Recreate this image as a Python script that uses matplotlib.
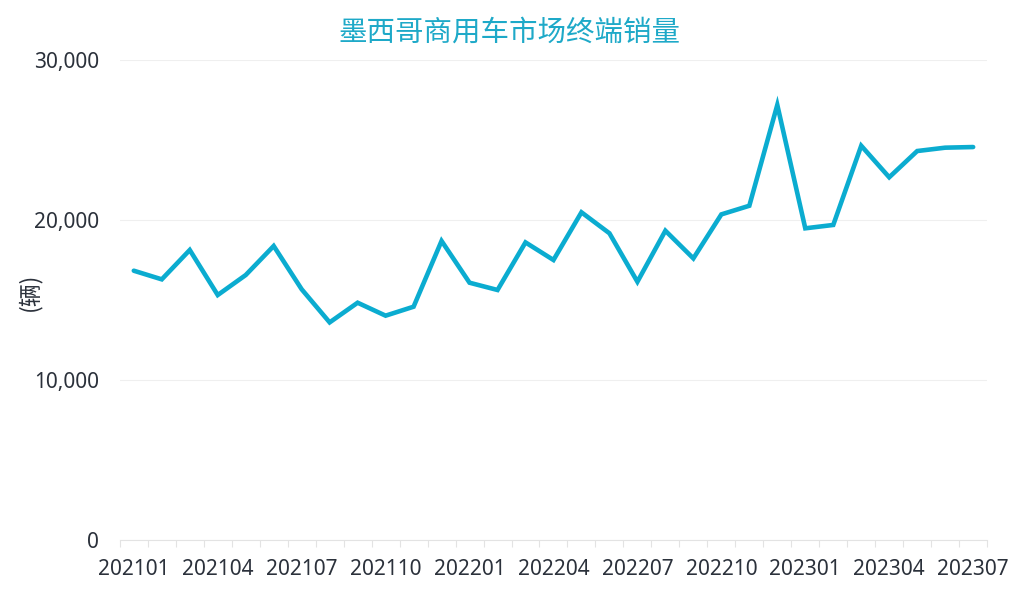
import numpy as np
import matplotlib
matplotlib.use("Agg")
import matplotlib.pyplot as plt
from matplotlib.ticker import FuncFormatter

plt.rcParams['font.family'] = ['Noto Sans', 'Noto Sans CJK SC', 'DejaVu Sans']

# monthly terminal sales, 202101 .. 202307
months = [f"{y}{m:02d}" for y in (2021, 2022, 2023) for m in range(1, 13)][:31]
sales = [16830, 16290, 18125, 15310, 16560, 18375, 15670, 13600, 14830, 14020,
         14580, 18690, 16080, 15625, 18600, 17500, 20480, 19170, 16140, 19330,
         17600, 20350, 20890, 27190, 19480, 19690, 24640, 22670, 24310, 24520,
         24560]

title = "墨西哥商用车市场终端销量"
unit_label = "(辆)"
line_color = "#0BACD0"
text_color = "#2B313B"

fig = plt.figure(figsize=(10.24, 5.97), dpi=100)
ax = fig.add_axes([0.117, 0.0955, 0.847, 0.804])

x = np.arange(len(months))
ax.plot(x, sales, color=line_color, linewidth=3.3, solid_joinstyle="miter",
        solid_capstyle="round", zorder=3)

ax.set_xlim(-0.5, len(months) - 0.5)
ax.set_ylim(0, 30000)
ax.set_yticks([0, 10000, 20000, 30000])
ax.yaxis.set_major_formatter(FuncFormatter(lambda v, p: f"{int(v):,}"))

label_idx = x[::3]
ax.set_xticks(label_idx)
ax.set_xticklabels([months[i] for i in label_idx])
ax.set_xticks(np.arange(-0.5, len(months), 1), minor=True)
ax.tick_params(axis="x", which="major", length=0, pad=14,
               labelsize=15, labelcolor=text_color)
ax.tick_params(axis="x", which="minor", length=5, color="#E3E3E3", width=0.8)
ax.tick_params(axis="y", length=0, pad=15, labelsize=15, labelcolor=text_color)

ax.grid(axis="y", color="#EFEFEF", linewidth=0.8)
ax.set_axisbelow(True)
for side in ("top", "right", "left"):
    ax.spines[side].set_visible(False)
ax.spines["bottom"].set_color("#E3E3E3")
ax.spines["bottom"].set_linewidth(0.8)

fig.text(0.498, 0.946, title, ha="center", va="center", fontsize=20.5,
         color="#1EA9C8", family=['Noto Sans CJK SC', 'DejaVu Sans'])
fig.text(0.029, 0.511, unit_label, ha="center", va="center", rotation=90,
         fontsize=16.5, color=text_color,
         family=['Noto Sans CJK SC', 'DejaVu Sans'])

fig.savefig("out.png", dpi=100)
